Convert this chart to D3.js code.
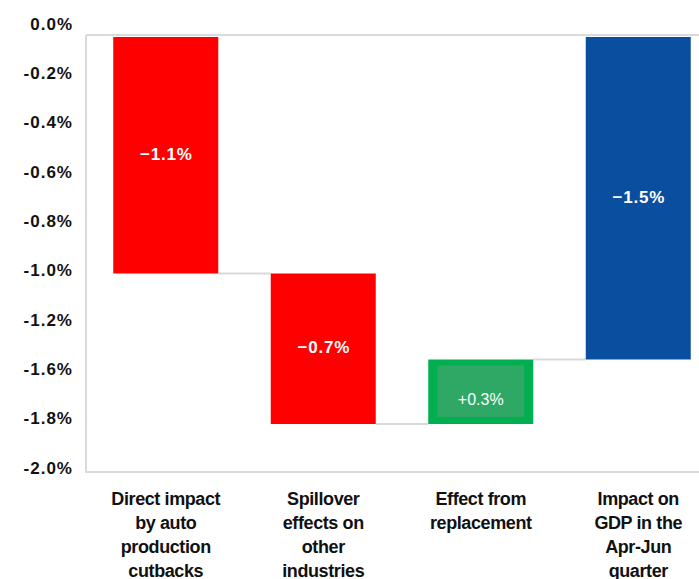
<!DOCTYPE html>
<html>
<head>
<meta charset="utf-8">
<script src="https://cdn.jsdelivr.net/npm/d3@7"></script>
<style>
  html, body { margin: 0; padding: 0; background: #ffffff; }
  svg { display: block; }
</style>
</head>
<body>
<svg id="chart" width="699" height="579"></svg>
<script>
// Waterfall: contributions to Apr-Jun GDP (percentage points)
const categories = [
  ["Direct impact", "by auto", "production", "cutbacks"],
  ["Spillover", "effects on", "other", "industries"],
  ["Effect from", "replacement"],
  ["Impact on", "GDP in the", "Apr-Jun", "quarter"]
];
const stepValues = [-1.1, -0.7, 0.3];          // the three contributions
const totalValue = -1.5;                        // resulting total
const valueLabels = ["\u22121.1%", "\u22120.7%", "+0.3%", "\u22121.5%"];
const tickLabels = ["0.0%", "-0.2%", "-0.4%", "-0.6%", "-0.8%", "-1.0%", "-1.2%", "-1.6%", "-1.8%", "-2.0%"];

const svg = d3.select("#chart");
const W = 699, H = 579;

const x = d3.scaleBand()
  .domain(d3.range(categories.length))
  .range([87, 717])
  .paddingInner(1 / 3)
  .paddingOuter(1 / 6);

const y = d3.scaleLinear().domain([0, -2]).range([37, 467]);

// tick labels sit on their own evenly spaced axis
const yTicks = d3.scalePoint().domain(tickLabels).range([24, 468]);

// build waterfall segments
let run = 0;
const bars = stepValues.map((v, i) => {
  const start = run;
  run += v;
  return { i, start, end: run, kind: v < 0 ? "neg" : "pos" };
});
bars.push({ i: 3, start: 0, end: totalValue, kind: "total" });

const fill = { neg: "#ff0000", pos: "#00b050", total: "#0a4f9f" };

// plot frame
const frame = svg.append("g")
  .attr("stroke", "#dadada").attr("stroke-width", 2).attr("fill", "none");
frame.append("line").attr("x1", 86).attr("x2", 86).attr("y1", 35).attr("y2", 473);
frame.append("line").attr("x1", 86).attr("x2", W).attr("y1", 35).attr("y2", 35);
frame.append("line").attr("x1", 86).attr("x2", W).attr("y1", 472).attr("y2", 472);

// connector lines between consecutive bars
const connectors = svg.append("g").attr("stroke", "#d9d9d9").attr("stroke-width", 2);
bars.slice(0, -1).forEach((b, k) => {
  const next = bars[k + 1];
  const level = next.kind === "total" ? next.end : b.end;
  connectors.append("line")
    .attr("x1", x(b.i) + x.bandwidth())
    .attr("x2", x(next.i))
    .attr("y1", y(level))
    .attr("y2", y(level));
});

// bars
svg.append("g").selectAll("rect")
  .data(bars)
  .join("rect")
  .attr("x", d => x(d.i))
  .attr("width", x.bandwidth())
  .attr("y", d => Math.min(y(d.start), y(d.end)))
  .attr("height", d => Math.abs(y(d.end) - y(d.start)))
  .attr("fill", d => fill[d.kind]);

// value labels
const lab = svg.append("g").attr("font-family", "Liberation Sans, Arial, sans-serif");
bars.forEach((d, k) => {
  const top = Math.min(y(d.start), y(d.end));
  const bot = Math.max(y(d.start), y(d.end));
  const cx = x(d.i) + x.bandwidth() / 2;
  if (d.kind === "pos") {
    lab.append("rect")
      .attr("x", x(d.i) + 9)
      .attr("width", x.bandwidth() - 18)
      .attr("y", top + 6)
      .attr("height", bot - top - 13)
      .attr("fill", "#2ea864");
    lab.append("text")
      .attr("x", cx).attr("y", (top + bot) / 2 + 8)
      .attr("text-anchor", "middle").attr("dominant-baseline", "central")
      .attr("font-size", 16).attr("fill", "#ffffff")
      .text(valueLabels[k]);
  } else {
    lab.append("text")
      .attr("x", cx + 0.5).attr("y", (top + bot) / 2 - 1)
      .attr("text-anchor", "middle").attr("dominant-baseline", "central")
      .attr("font-size", 17).attr("font-weight", "bold")
      .attr("letter-spacing", "0.8px")
      .attr("fill", "#ffffff")
      .text(valueLabels[k]);
  }
});

// y tick labels
svg.append("g").selectAll("text")
  .data(tickLabels)
  .join("text")
  .attr("x", 73)
  .attr("y", d => yTicks(d))
  .attr("text-anchor", "end")
  .attr("dominant-baseline", "central")
  .attr("font-family", "Liberation Sans, Arial, sans-serif")
  .attr("font-size", 17)
  .attr("font-weight", "bold")
  .attr("letter-spacing", "1px")
  .attr("fill", "#111111")
  .text(d => d);

// category labels
const cat = svg.append("g")
  .attr("font-family", "Liberation Sans, Arial, sans-serif")
  .attr("font-size", 18)
  .attr("font-weight", "bold")
  .attr("letter-spacing", "-0.4px")
  .attr("fill", "#111111")
  .attr("text-anchor", "middle");
categories.forEach((lines, i) => {
  const t = cat.append("text").attr("y", 505);
  lines.forEach((s, j) => {
    t.append("tspan")
      .attr("x", x(i) + x.bandwidth() / 2)
      .attr("dy", j === 0 ? 0 : 24)
      .text(s);
  });
});
</script>
</body>
</html>
